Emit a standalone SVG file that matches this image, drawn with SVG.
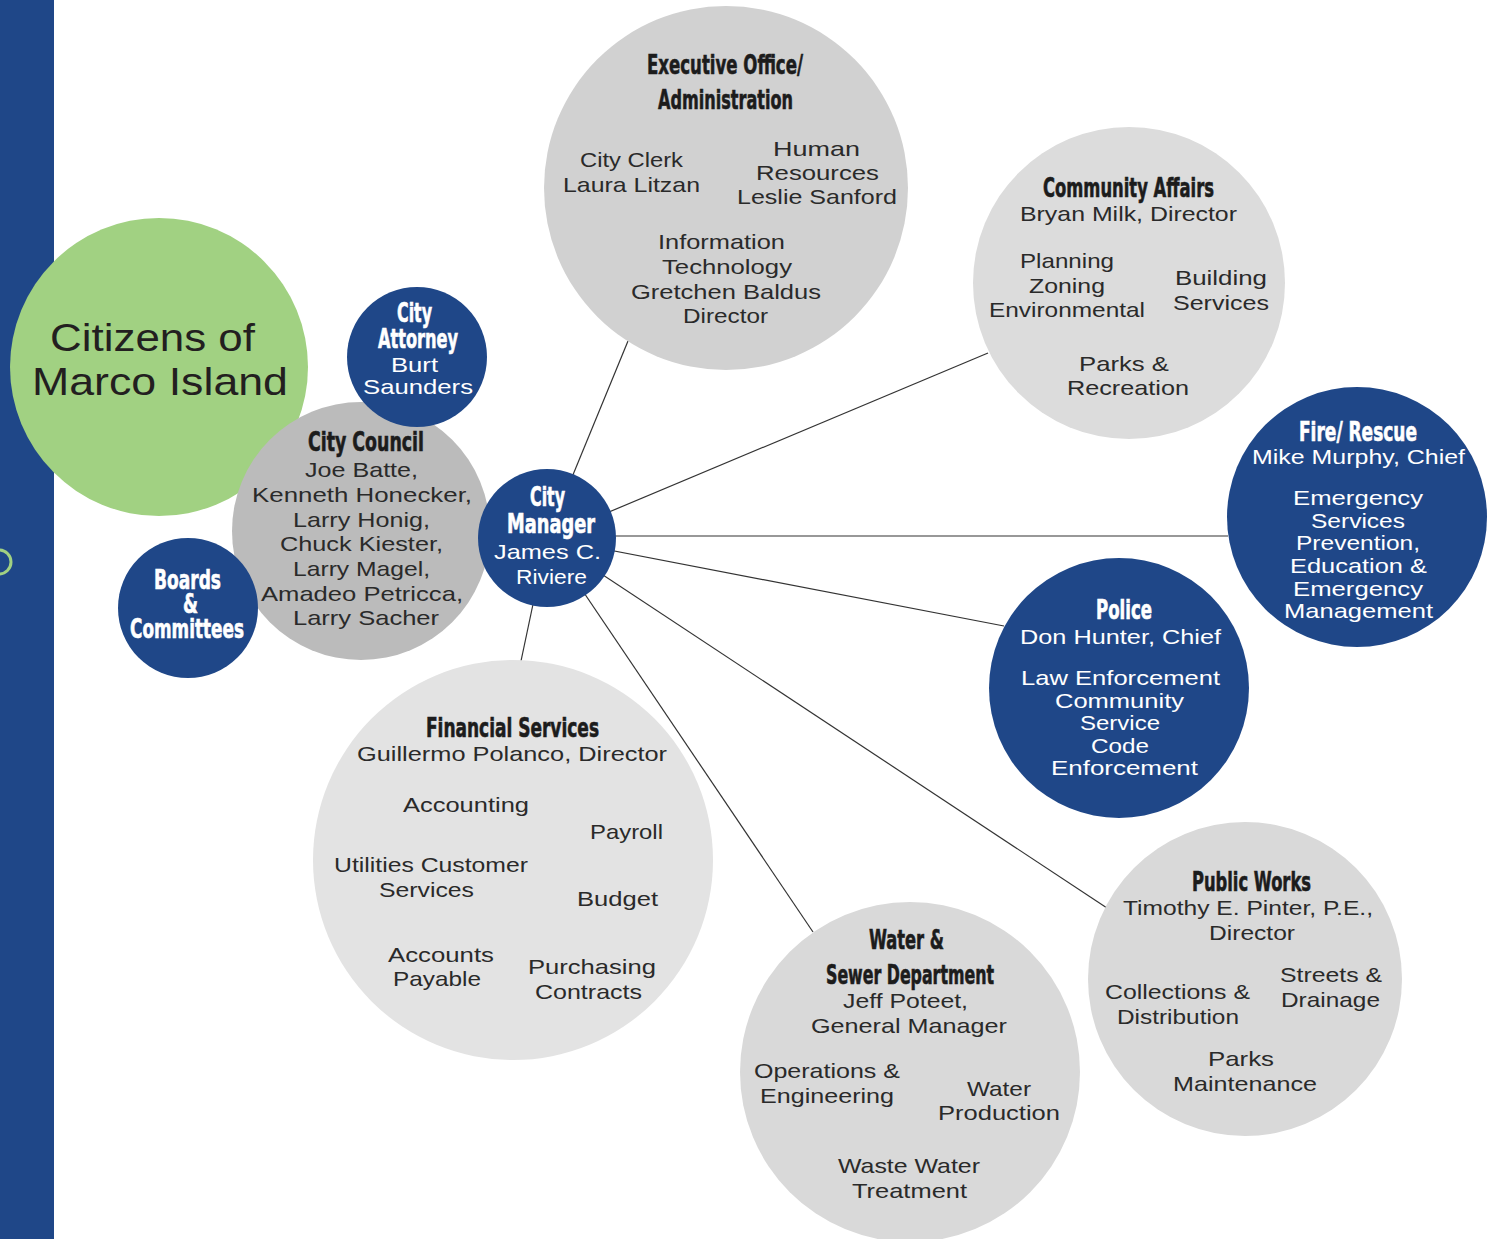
<svg xmlns="http://www.w3.org/2000/svg" width="1497" height="1239" viewBox="0 0 1497 1239">
  <style>
    .blue { fill: #1f4788; }
    .green { fill: #a1d182; }
    .hd { font-family: "Liberation Sans Narrow", "DejaVu Sans Condensed", "Liberation Sans", sans-serif; font-weight: bold; font-size: 27px; text-anchor: middle; stroke-width: 0.6; }
    .tx { font-family: "Liberation Sans", "DejaVu Sans", sans-serif; font-size: 21px; text-anchor: middle; }
    .dk { fill: #2a2a2a; }
    .hd.dk { fill: #1c1c1c; stroke: #1c1c1c; }
    .wh { fill: #ffffff; }
    .hd.wh { stroke: #ffffff; }
    .big { font-family: "Liberation Sans", "DejaVu Sans", sans-serif; font-size: 39px; text-anchor: middle; fill: #231f20; }
    .link { stroke: #333333; stroke-width: 1.2; fill: none; }
  </style>

  <rect width="1497" height="1239" fill="#ffffff"/>

  <!-- left band -->
  <rect x="0" y="0" width="54" height="1239" class="blue"/>
  <circle cx="-1" cy="562" r="12" fill="none" stroke="#a1d182" stroke-width="3"/>

  <!-- connectors from the City Manager -->
  <g id="connectors">
    <line class="link" x1="547" y1="538" x2="628" y2="341"/>
    <line class="link" x1="547" y1="538" x2="988" y2="353"/>
    <line class="link" x1="547" y1="536" x2="1228" y2="536"/>
    <line class="link" x1="547" y1="538" x2="1004" y2="626"/>
    <line class="link" x1="547" y1="538" x2="1107" y2="908"/>
    <line class="link" x1="547" y1="538" x2="813" y2="932"/>
    <line class="link" x1="547" y1="538" x2="521" y2="661"/>
  </g>

  <g id="citizens">
    <circle cx="159" cy="367" r="149" class="green"/>
    <text class="big" x="152.5" y="351" textLength="205" lengthAdjust="spacingAndGlyphs">Citizens of</text>
    <text class="big" x="160" y="395" textLength="256" lengthAdjust="spacingAndGlyphs">Marco Island</text>
  </g>

  <g id="city-council">
    <circle cx="361" cy="531" r="129" fill="#bbbbbb"/>
    <text class="hd dk" x="366" y="451" textLength="116" lengthAdjust="spacingAndGlyphs">City Council</text>
    <text class="tx dk" x="361.5" y="477" textLength="113" lengthAdjust="spacingAndGlyphs">Joe Batte,</text>
    <text class="tx dk" x="362" y="502" textLength="220" lengthAdjust="spacingAndGlyphs">Kenneth Honecker,</text>
    <text class="tx dk" x="361.5" y="527" textLength="137" lengthAdjust="spacingAndGlyphs">Larry Honig,</text>
    <text class="tx dk" x="361.5" y="551" textLength="163" lengthAdjust="spacingAndGlyphs">Chuck Kiester,</text>
    <text class="tx dk" x="361.5" y="576" textLength="137" lengthAdjust="spacingAndGlyphs">Larry Magel,</text>
    <text class="tx dk" x="362" y="601" textLength="202" lengthAdjust="spacingAndGlyphs">Amadeo Petricca,</text>
    <text class="tx dk" x="366" y="625" textLength="146" lengthAdjust="spacingAndGlyphs">Larry Sacher</text>
  </g>

  <g id="city-attorney">
    <circle cx="417" cy="357" r="70" class="blue"/>
    <text class="hd wh" x="414.5" y="322" textLength="35" lengthAdjust="spacingAndGlyphs">City</text>
    <text class="hd wh" x="418" y="348" textLength="80" lengthAdjust="spacingAndGlyphs">Attorney</text>
    <text class="tx wh" x="414.5" y="372" textLength="47" lengthAdjust="spacingAndGlyphs">Burt</text>
    <text class="tx wh" x="418" y="394" textLength="110" lengthAdjust="spacingAndGlyphs">Saunders</text>
  </g>

  <g id="boards">
    <circle cx="188" cy="608" r="70" class="blue"/>
    <text class="hd wh" x="187.5" y="589" textLength="67" lengthAdjust="spacingAndGlyphs">Boards</text>
    <text class="hd wh" x="190.5" y="613" textLength="15" lengthAdjust="spacingAndGlyphs">&amp;</text>
    <text class="hd wh" x="187" y="638" textLength="114" lengthAdjust="spacingAndGlyphs">Committees</text>
  </g>

  <g id="city-manager">
    <circle cx="547" cy="538" r="69" class="blue"/>
    <text class="hd wh" x="547.5" y="506" textLength="35" lengthAdjust="spacingAndGlyphs">City</text>
    <text class="hd wh" x="551" y="533" textLength="88" lengthAdjust="spacingAndGlyphs">Manager</text>
    <text class="tx wh" x="547.5" y="559" textLength="107" lengthAdjust="spacingAndGlyphs">James C.</text>
    <text class="tx wh" x="551.5" y="584" textLength="71" lengthAdjust="spacingAndGlyphs">Riviere</text>
  </g>

  <g id="executive-office">
    <circle cx="726" cy="188" r="182" fill="#d1d1d1"/>
    <text class="hd dk" x="725" y="74" textLength="156" lengthAdjust="spacingAndGlyphs">Executive Office/</text>
    <text class="hd dk" x="725.5" y="109" textLength="135" lengthAdjust="spacingAndGlyphs">Administration</text>
    <text class="tx dk" x="631.5" y="167" textLength="103" lengthAdjust="spacingAndGlyphs">City Clerk</text>
    <text class="tx dk" x="631.5" y="192" textLength="137" lengthAdjust="spacingAndGlyphs">Laura Litzan</text>
    <text class="tx dk" x="816.5" y="156" textLength="87" lengthAdjust="spacingAndGlyphs">Human</text>
    <text class="tx dk" x="817.5" y="180" textLength="123" lengthAdjust="spacingAndGlyphs">Resources</text>
    <text class="tx dk" x="817" y="204" textLength="160" lengthAdjust="spacingAndGlyphs">Leslie Sanford</text>
    <text class="tx dk" x="721.5" y="249" textLength="127" lengthAdjust="spacingAndGlyphs">Information</text>
    <text class="tx dk" x="727" y="274" textLength="130" lengthAdjust="spacingAndGlyphs">Technology</text>
    <text class="tx dk" x="726" y="299" textLength="190" lengthAdjust="spacingAndGlyphs">Gretchen Baldus</text>
    <text class="tx dk" x="725.5" y="323" textLength="85" lengthAdjust="spacingAndGlyphs">Director</text>
  </g>

  <g id="community-affairs">
    <circle cx="1129" cy="283" r="156" fill="#dcdcdc"/>
    <text class="hd dk" x="1128.5" y="197" textLength="171" lengthAdjust="spacingAndGlyphs">Community Affairs</text>
    <text class="tx dk" x="1128.5" y="221" textLength="217" lengthAdjust="spacingAndGlyphs">Bryan Milk, Director</text>
    <text class="tx dk" x="1067" y="268" textLength="94" lengthAdjust="spacingAndGlyphs">Planning</text>
    <text class="tx dk" x="1067" y="293" textLength="76" lengthAdjust="spacingAndGlyphs">Zoning</text>
    <text class="tx dk" x="1067" y="317" textLength="156" lengthAdjust="spacingAndGlyphs">Environmental</text>
    <text class="tx dk" x="1221" y="285" textLength="92" lengthAdjust="spacingAndGlyphs">Building</text>
    <text class="tx dk" x="1221" y="310" textLength="96" lengthAdjust="spacingAndGlyphs">Services</text>
    <text class="tx dk" x="1124" y="371" textLength="90" lengthAdjust="spacingAndGlyphs">Parks &amp;</text>
    <text class="tx dk" x="1128" y="395" textLength="122" lengthAdjust="spacingAndGlyphs">Recreation</text>
  </g>

  <g id="fire-rescue">
    <circle cx="1357" cy="517" r="130" class="blue"/>
    <text class="hd wh" x="1358" y="441" textLength="118" lengthAdjust="spacingAndGlyphs">Fire/ Rescue</text>
    <text class="tx wh" x="1358.5" y="464" textLength="213" lengthAdjust="spacingAndGlyphs">Mike Murphy, Chief</text>
    <text class="tx wh" x="1358" y="505" textLength="130" lengthAdjust="spacingAndGlyphs">Emergency</text>
    <text class="tx wh" x="1358" y="528" textLength="94" lengthAdjust="spacingAndGlyphs">Services</text>
    <text class="tx wh" x="1358" y="550" textLength="124" lengthAdjust="spacingAndGlyphs">Prevention,</text>
    <text class="tx wh" x="1358.5" y="573" textLength="137" lengthAdjust="spacingAndGlyphs">Education &amp;</text>
    <text class="tx wh" x="1358" y="596" textLength="130" lengthAdjust="spacingAndGlyphs">Emergency</text>
    <text class="tx wh" x="1358.5" y="618" textLength="149" lengthAdjust="spacingAndGlyphs">Management</text>
  </g>

  <g id="police">
    <circle cx="1119" cy="688" r="130" class="blue"/>
    <text class="hd wh" x="1124" y="619" textLength="56" lengthAdjust="spacingAndGlyphs">Police</text>
    <text class="tx wh" x="1120.5" y="644" textLength="201" lengthAdjust="spacingAndGlyphs">Don Hunter, Chief</text>
    <text class="tx wh" x="1120.5" y="685" textLength="199" lengthAdjust="spacingAndGlyphs">Law Enforcement</text>
    <text class="tx wh" x="1119.5" y="708" textLength="129" lengthAdjust="spacingAndGlyphs">Community</text>
    <text class="tx wh" x="1120" y="730" textLength="80" lengthAdjust="spacingAndGlyphs">Service</text>
    <text class="tx wh" x="1120" y="753" textLength="58" lengthAdjust="spacingAndGlyphs">Code</text>
    <text class="tx wh" x="1124.5" y="775" textLength="147" lengthAdjust="spacingAndGlyphs">Enforcement</text>
  </g>

  <g id="financial-services">
    <circle cx="513" cy="860" r="200" fill="#e3e3e3"/>
    <text class="hd dk" x="512.5" y="737" textLength="173" lengthAdjust="spacingAndGlyphs">Financial Services</text>
    <text class="tx dk" x="512" y="761" textLength="310" lengthAdjust="spacingAndGlyphs">Guillermo Polanco, Director</text>
    <text class="tx dk" x="466" y="812" textLength="126" lengthAdjust="spacingAndGlyphs">Accounting</text>
    <text class="tx dk" x="626.5" y="839" textLength="73" lengthAdjust="spacingAndGlyphs">Payroll</text>
    <text class="tx dk" x="431" y="872" textLength="194" lengthAdjust="spacingAndGlyphs">Utilities Customer</text>
    <text class="tx dk" x="426.5" y="897" textLength="95" lengthAdjust="spacingAndGlyphs">Services</text>
    <text class="tx dk" x="617.5" y="906" textLength="81" lengthAdjust="spacingAndGlyphs">Budget</text>
    <text class="tx dk" x="441" y="962" textLength="106" lengthAdjust="spacingAndGlyphs">Accounts</text>
    <text class="tx dk" x="437" y="986" textLength="88" lengthAdjust="spacingAndGlyphs">Payable</text>
    <text class="tx dk" x="592" y="974" textLength="128" lengthAdjust="spacingAndGlyphs">Purchasing</text>
    <text class="tx dk" x="588.5" y="999" textLength="107" lengthAdjust="spacingAndGlyphs">Contracts</text>
  </g>

  <g id="water-sewer">
    <circle cx="910" cy="1072" r="170" fill="#d9d9d9"/>
    <text class="hd dk" x="906.5" y="949" textLength="75" lengthAdjust="spacingAndGlyphs">Water &amp;</text>
    <text class="hd dk" x="910" y="984" textLength="168" lengthAdjust="spacingAndGlyphs">Sewer Department</text>
    <text class="tx dk" x="905.5" y="1008" textLength="125" lengthAdjust="spacingAndGlyphs">Jeff Poteet,</text>
    <text class="tx dk" x="909" y="1033" textLength="196" lengthAdjust="spacingAndGlyphs">General Manager</text>
    <text class="tx dk" x="827" y="1078" textLength="146" lengthAdjust="spacingAndGlyphs">Operations &amp;</text>
    <text class="tx dk" x="827" y="1103" textLength="134" lengthAdjust="spacingAndGlyphs">Engineering</text>
    <text class="tx dk" x="999" y="1096" textLength="64" lengthAdjust="spacingAndGlyphs">Water</text>
    <text class="tx dk" x="999" y="1120" textLength="122" lengthAdjust="spacingAndGlyphs">Production</text>
    <text class="tx dk" x="909" y="1173" textLength="142" lengthAdjust="spacingAndGlyphs">Waste Water</text>
    <text class="tx dk" x="909.5" y="1198" textLength="115" lengthAdjust="spacingAndGlyphs">Treatment</text>
  </g>

  <g id="public-works">
    <circle cx="1245" cy="979" r="157" fill="#d9d9d9"/>
    <text class="hd dk" x="1251.5" y="891" textLength="119" lengthAdjust="spacingAndGlyphs">Public Works</text>
    <text class="tx dk" x="1248" y="915" textLength="250" lengthAdjust="spacingAndGlyphs">Timothy E. Pinter, P.E.,</text>
    <text class="tx dk" x="1252" y="940" textLength="86" lengthAdjust="spacingAndGlyphs">Director</text>
    <text class="tx dk" x="1177.5" y="999" textLength="145" lengthAdjust="spacingAndGlyphs">Collections &amp;</text>
    <text class="tx dk" x="1178" y="1024" textLength="122" lengthAdjust="spacingAndGlyphs">Distribution</text>
    <text class="tx dk" x="1331" y="982" textLength="102" lengthAdjust="spacingAndGlyphs">Streets &amp;</text>
    <text class="tx dk" x="1330.5" y="1007" textLength="99" lengthAdjust="spacingAndGlyphs">Drainage</text>
    <text class="tx dk" x="1241" y="1066" textLength="66" lengthAdjust="spacingAndGlyphs">Parks</text>
    <text class="tx dk" x="1245" y="1091" textLength="144" lengthAdjust="spacingAndGlyphs">Maintenance</text>
  </g>
</svg>
